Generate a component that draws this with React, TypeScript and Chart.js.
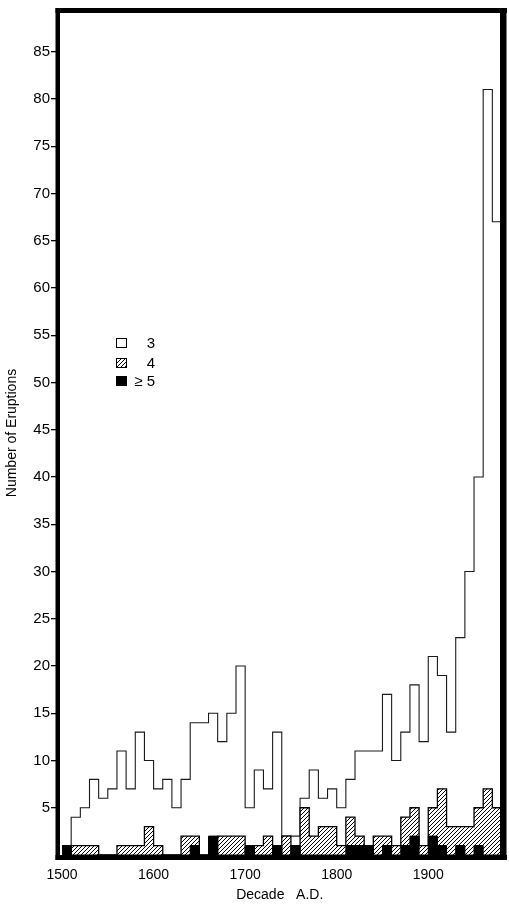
import React, { useEffect, useRef } from 'react';
import { Chart, registerables } from 'chart.js';

Chart.register(...registerables);

// ---- data ----
const DECADES = [
  1500, 1510, 1520, 1530, 1540, 1550, 1560, 1570, 1580, 1590,
  1600, 1610, 1620, 1630, 1640, 1650, 1660, 1670, 1680, 1690,
  1700, 1710, 1720, 1730, 1740, 1750, 1760, 1770, 1780, 1790,
  1800, 1810, 1820, 1830, 1840, 1850, 1860, 1870, 1880, 1890,
  1900, 1910, 1920, 1930, 1940, 1950, 1960, 1970,
];
const X_START = 1495.6;
const X_END = 1980;

// VEI 3 (open outline)
const VEI3 = [
  1, 4, 5, 8, 6, 7, 11, 7, 13, 10,
  7, 8, 5, 8, 14, 14, 15, 12, 15, 20,
  5, 9, 7, 13, 2, 2, 6, 9, 6, 7,
  5, 8, 11, 11, 11, 17, 10, 13, 18, 12,
  21, 19, 13, 23, 30, 40, 81, 67,
];
// VEI 4 (hatched)
const VEI4 = [
  0, 1, 1, 1, 0, 0, 1, 1, 1, 3,
  1, 0, 0, 2, 2, 0, 0, 2, 2, 2,
  0, 1, 2, 0, 2, 0, 5, 2, 3, 3,
  1, 4, 2, 0, 2, 2, 1, 4, 5, 1,
  5, 7, 3, 3, 3, 5, 7, 5,
];
// VEI >= 5 (black)
const VEI5 = [
  1, 0, 0, 0, 0, 0, 0, 0, 0, 0,
  0, 0, 0, 0, 1, 0, 2, 0, 0, 0,
  1, 0, 0, 1, 0, 1, 0, 0, 0, 0,
  0, 1, 1, 1, 0, 1, 0, 1, 2, 0,
  2, 1, 0, 1, 0, 1, 0, 0,
];

const X_TICKS = [1500, 1600, 1700, 1800, 1900];
const Y_TICKS = [5, 10, 15, 20, 25, 30, 35, 40, 45, 50, 55, 60, 65, 70, 75, 80, 85];
const LEGEND_LABELS = ['3', '4', '\u2265 5'];
const X_TITLE = 'Decade   A.D.';
const Y_TITLE = 'Number of Eruptions';

const FONT = "'Liberation Sans', Arial, Helvetica, sans-serif";

function stepPoints(vals: number[]) {
  const pts = DECADES.map((d, i) => ({ x: d, y: vals[i] }));
  pts.push({ x: X_END, y: vals[vals.length - 1] });
  return pts;
}

function makeHatch(): CanvasPattern | string {
  const c = document.createElement('canvas');
  const s = 4;
  c.width = s;
  c.height = s;
  const g = c.getContext('2d');
  if (!g) return '#888';
  g.fillStyle = '#fff';
  g.fillRect(0, 0, s, s);
  g.strokeStyle = '#000';
  g.lineWidth = 1;
  g.beginPath();
  g.moveTo(-1, s + 1);
  g.lineTo(s + 1, -1);
  g.moveTo(-1, 1);
  g.lineTo(1, -1);
  g.moveTo(s - 1, s + 1);
  g.lineTo(s + 1, s - 1);
  g.stroke();
  const p = g.createPattern(c, 'repeat');
  return p || '#888';
}

export default function App() {
  const ref = useRef<HTMLCanvasElement | null>(null);

  useEffect(() => {
    if (!ref.current) return;
    const hatch = makeHatch();

    const framePlugin = {
      id: 'frame',
      afterDraw(chart: any) {
        const { ctx, chartArea: ca } = chart;
        ctx.save();
        ctx.fillStyle = '#000';
        // left axis
        ctx.fillRect(ca.left - 2.5, ca.top - 3, 4.5, ca.bottom - ca.top + 8);
        // top
        ctx.fillRect(ca.left - 2.5, ca.top - 3, ca.right - ca.left + 8, 5);
        // right
        ctx.fillRect(ca.right - 1.5, ca.top - 3, 6.5, ca.bottom - ca.top + 8);
        // bottom
        ctx.fillRect(ca.left - 2.5, ca.bottom, ca.right - ca.left + 8, 5);

        // legend
        const lx = 116;
        const rows = [343, 363, 381];
        ctx.lineWidth = 1;
        ctx.strokeStyle = '#000';
        ctx.fillStyle = '#fff';
        ctx.fillRect(lx, rows[0] - 5, 11, 10);
        ctx.strokeRect(lx + 0.5, rows[0] - 4.5, 10, 9);
        ctx.fillStyle = hatch;
        ctx.fillRect(lx, rows[1] - 5, 11, 10);
        ctx.strokeRect(lx + 0.5, rows[1] - 4.5, 10, 9);
        ctx.fillStyle = '#000';
        ctx.fillRect(lx, rows[2] - 5, 11, 10);

        ctx.fillStyle = '#000';
        ctx.font = `15px ${FONT}`;
        ctx.textAlign = 'right';
        ctx.textBaseline = 'middle';
        LEGEND_LABELS.forEach((t, i) => {
          ctx.fillText(t, 155, rows[i] + 1);
        });
        ctx.restore();
      },
    };

    const chart = new Chart(ref.current, {
      type: 'line',
      data: {
        datasets: [
          {
            label: LEGEND_LABELS[2],
            data: stepPoints(VEI5),
            stepped: 'before',
            borderColor: '#000',
            borderWidth: 1,
            backgroundColor: '#000',
            fill: 'origin',
            pointRadius: 0,
          },
          {
            label: LEGEND_LABELS[1],
            data: stepPoints(VEI4),
            stepped: 'before',
            borderColor: '#000',
            borderWidth: 1.3,
            backgroundColor: hatch as any,
            fill: 'origin',
            pointRadius: 0,
          },
          {
            label: LEGEND_LABELS[0],
            data: stepPoints(VEI3),
            stepped: 'before',
            borderColor: '#1a1a1a',
            borderWidth: 1.1,
            fill: false,
            pointRadius: 0,
          },
        ],
      },
      options: {
        animation: false,
        responsive: false,
        devicePixelRatio: 1,
        layout: { padding: { left: 0, top: 11, right: 7.5, bottom: 0 } },
        plugins: {
          legend: { display: false },
          tooltip: { enabled: false },
        },
        scales: {
          x: {
            type: 'linear',
            min: X_START,
            max: X_END,
            offset: false,
            afterFit(scale: any) {
              scale.height = 49;
            },
            afterBuildTicks(scale: any) {
              scale.ticks = X_TICKS.map((v) => ({ value: v }));
            },
            grid: { display: false },
            border: { display: false },
            ticks: {
              color: '#000',
              font: { family: FONT, size: 14 },
              padding: 4,
              maxRotation: 0,
              autoSkip: false,
              callback: (v: any) => String(v),
            },
            title: {
              display: true,
              text: X_TITLE,
              color: '#000',
              font: { family: FONT, size: 14 },
              padding: { top: 0, bottom: 0 },
            },
          },
          y: {
            type: 'linear',
            min: 0,
            max: 89.3,
            afterFit(scale: any) {
              scale.width = 58;
            },
            afterBuildTicks(scale: any) {
              scale.ticks = Y_TICKS.map((v) => ({ value: v }));
            },
            grid: {
              display: true,
              drawOnChartArea: false,
              drawTicks: true,
              tickLength: 7,
              color: '#000',
              lineWidth: 1.3,
            },
            border: { display: false },
            ticks: {
              color: '#000',
              font: { family: FONT, size: 15 },
              padding: 1,
              autoSkip: false,
              callback: (v: any) => String(v),
            },
            title: {
              display: true,
              text: Y_TITLE,
              color: '#000',
              font: { family: FONT, size: 14 },
              padding: { top: 4, bottom: 0 },
            },
          },
        },
      },
      plugins: [framePlugin],
    });

    return () => chart.destroy();
  }, []);

  return (
    <div style={{ position: 'fixed', left: 0, top: 0, width: 509, height: 904, background: '#fff' }}>
      <canvas ref={ref} width={509} height={904} style={{ display: 'block' }} />
    </div>
  );
}
